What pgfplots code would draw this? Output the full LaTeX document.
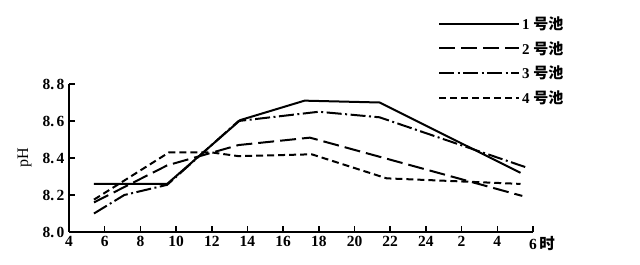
\documentclass[border=0pt]{standalone}
\usepackage{fontspec}
\setmainfont{Liberation Serif}
\newfontfamily\cjk{Noto Sans CJK SC Bold}
\usepackage{pgfplots}
\pgfplotsset{compat=1.18}
\begin{document}
\begin{tikzpicture}
\useasboundingbox (-69pt,-33pt) rectangle (571pt,232pt);
\begin{axis}[
  at={(0,0)}, anchor=south west,
  scale only axis, width=464pt, height=148pt,
  xmin=4, xmax=30, ymin=8.0, ymax=8.8,
  axis x line*=bottom, axis y line*=left,
  axis line style={line width=1.8pt, black},
  xtick={4,6,...,30},
  xticklabels={4,6,8,10,12,14,16,18,20,22,24,2,4,6\rlap{\,{\cjk 时}}},
  ytick={8.0,8.2,8.4,8.6,8.8},
  yticklabels={8.\,0,8.\,2,8.\,4,8.\,6,8.\,8},
  tick align=inside, major tick length=6pt,
  tick style={line width=1.5pt, black},
  ticklabel style={font=\fontsize{15.5}{18}\selectfont\bfseries},
  xticklabel style={yshift=-1pt},
  yticklabel style={xshift=-1pt},
  /pgf/number format/assume math mode=true,
  ylabel={pH}, ylabel style={font=\fontsize{16}{18}\selectfont, yshift=4pt},
  clip=false,
  legend style={at={(rel axis cs:0.795,1.47)}, anchor=north west, draw=none, fill=none,
    font=\fontsize{15}{17}\selectfont\bfseries, row sep=6.5pt, inner sep=0pt},
  legend cell align=left,
  legend image code/.code={\draw[#1] (0pt,0pt) -- (80pt,0pt);},
]
\addplot[black, line width=2pt] coordinates {(5.4,8.26)(9.5,8.26)(13.6,8.605)(17.2,8.71)(21.4,8.70)(29.3,8.32)};
\addlegendentry{1 {\cjk 号池}}
\addplot[black, line width=2pt, dash pattern=on 16pt off 6pt] coordinates {(5.4,8.16)(9.5,8.36)(13.5,8.47)(17.5,8.51)(29.4,8.195)};
\addlegendentry{2 {\cjk 号池}}
\addplot[black, line width=2pt, dash pattern=on 15pt off 3.5pt on 2pt off 3.5pt] coordinates {(5.4,8.10)(7.1,8.20)(9.5,8.255)(13.5,8.60)(18,8.65)(21.4,8.62)(29.6,8.35)};
\addlegendentry{3 {\cjk 号池}}
\addplot[black, line width=2pt, dash pattern=on 7pt off 4pt] coordinates {(5.4,8.175)(9.6,8.43)(12,8.43)(13.5,8.41)(17.6,8.42)(21.8,8.29)(29.3,8.26)};
\addlegendentry{4 {\cjk 号池}}
\end{axis}
\end{tikzpicture}
\end{document}
